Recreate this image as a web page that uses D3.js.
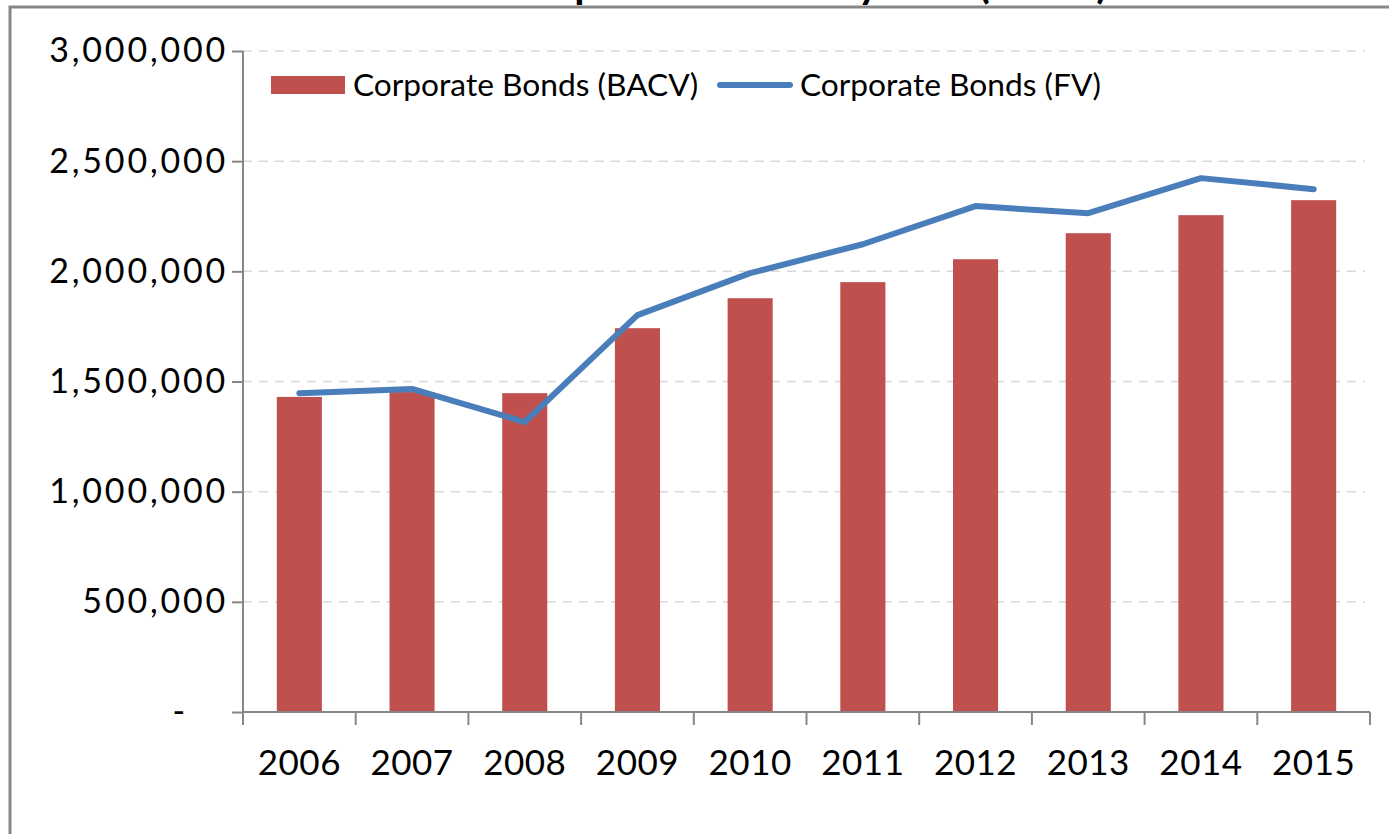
<!DOCTYPE html>
<html>
<head>
<meta charset="utf-8">
<script src="https://cdn.jsdelivr.net/npm/d3@7"></script>
<style>
  body { margin: 0; background: #fff; }
  svg text { font-family: Lato, "Open Sans", sans-serif; }
</style>
</head>
<body>
<div id="chart"></div>
<script>
// values
var years = ["2006", "2007", "2008", "2009", "2010", "2011", "2012", "2013", "2014", "2015"];
var bacv = [1430000, 1452000, 1447000, 1742000, 1878000, 1951000, 2055000, 2173000, 2255000, 2323000];
var fv = [1447000, 1466000, 1316000, 1801000, 1992000, 2123000, 2296000, 2264000, 2423000, 2373000];
var yTicks = [0, 500000, 1000000, 1500000, 2000000, 2500000, 3000000];
var seriesNames = ["Corporate Bonds (BACV)", "Corporate Bonds (FV)"];
var titleText = "Corporate Bonds by Year (£'000)";

var W = 1389, H = 834;
var margin = { top: 51, right: 19, bottom: 122, left: 243 };
var width = W - margin.left - margin.right;
var height = H - margin.top - margin.bottom;

var svg = d3.select("#chart").append("svg").attr("width", W).attr("height", H);

// outer frame of the chart
svg.append("rect")
    .attr("x", 10).attr("y", 7)
    .attr("width", W + 20).attr("height", H + 20)
    .attr("fill", "none").attr("stroke", "#878787").attr("stroke-width", 3);

// title sits above the visible area, only the descenders show
svg.append("text")
    .attr("x", 507).attr("y", -2)
    .style("font-size", "42px").style("font-weight", "bold")
    .text(titleText);

var g = svg.append("g").attr("transform", "translate(" + margin.left + "," + margin.top + ")");

var x = d3.scaleBand().domain(years).range([0, width]).paddingInner(0.6).paddingOuter(0.3);
var y = d3.scaleLinear().domain([0, 3000000]).range([height, 0]);

// gridlines
g.selectAll(".grid").data(yTicks.slice(1)).enter().append("line")
    .attr("class", "grid")
    .attr("x1", 0).attr("x2", width - 5)
    .attr("y1", function (d) { return y(d); }).attr("y2", function (d) { return y(d); })
    .attr("stroke", "#d9d9d9").attr("stroke-width", 1.5).attr("stroke-dasharray", "9,7");

// bars
g.selectAll(".bar").data(years).enter().append("rect")
    .attr("class", "bar")
    .attr("x", function (d) { return x(d); })
    .attr("width", x.bandwidth())
    .attr("y", function (d, i) { return y(bacv[i]); })
    .attr("height", function (d, i) { return height - y(bacv[i]); })
    .attr("fill", "#c0504d");

// line
var line = d3.line()
    .x(function (d, i) { return x(years[i]) + x.bandwidth() / 2; })
    .y(function (d) { return y(d); });

g.append("path")
    .datum(fv)
    .attr("fill", "none")
    .attr("stroke", "#4a7ebb")
    .attr("stroke-width", 6)
    .attr("stroke-linejoin", "round")
    .attr("stroke-linecap", "round")
    .attr("d", line);

// y axis
var yAxis = d3.axisLeft(y).tickValues(yTicks).tickSize(11).tickPadding(4)
    .tickFormat(function (d) { return d === 0 ? "-" : d3.format(",")(d); });
var yg = g.append("g").call(yAxis);
yg.select(".domain").attr("stroke", "#868686").attr("stroke-width", 2).attr("d", "M0,0V" + height);
yg.selectAll(".tick line").attr("stroke", "#868686").attr("stroke-width", 2);
yg.selectAll("text").style("font-size", "34px").style("letter-spacing", "2.8px")
    .attr("fill", "#000").attr("x", -15);
yg.selectAll(".tick").filter(function (d) { return d === 0; }).select("text").attr("x", -55);

// x axis with ticks between categories
var step = x.step();
var xg = g.append("g").attr("transform", "translate(0," + height + ")");
xg.append("line").attr("x1", 0).attr("x2", width).attr("y1", 0).attr("y2", 0)
    .attr("stroke", "#868686").attr("stroke-width", 2);
xg.selectAll(".xt").data(d3.range(years.length + 1)).enter().append("line")
    .attr("class", "xt")
    .attr("x1", function (d) { return d * step; }).attr("x2", function (d) { return d * step; })
    .attr("y1", 0).attr("y2", 13)
    .attr("stroke", "#868686").attr("stroke-width", 2);
xg.selectAll(".xl").data(years).enter().append("text")
    .attr("class", "xl")
    .attr("x", function (d) { return x(d) + x.bandwidth() / 2; })
    .attr("y", 63)
    .attr("text-anchor", "middle")
    .style("font-size", "35px")
    .style("letter-spacing", "0.5px")
    .text(function (d) { return d; });

// legend
var lg = svg.append("g").attr("transform", "translate(271,85)");
lg.append("rect").attr("x", 0).attr("y", -9).attr("width", 74).attr("height", 18).attr("fill", "#c0504d");
lg.append("text").attr("x", 82).attr("y", 11).style("font-size", "31.7px").text(seriesNames[0]);
lg.append("line").attr("x1", 449).attr("x2", 519).attr("y1", 0).attr("y2", 0)
    .attr("stroke", "#4a7ebb").attr("stroke-width", 6).attr("stroke-linecap", "round");
lg.append("text").attr("x", 529).attr("y", 11).style("font-size", "31.7px").text(seriesNames[1]);
</script>
</body>
</html>
